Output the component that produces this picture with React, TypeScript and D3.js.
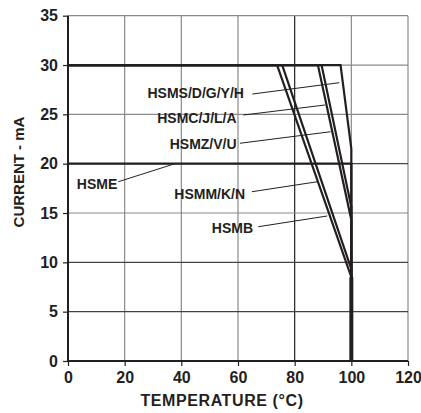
import { useEffect, useRef } from "react";
import * as d3 from "d3";

// axis ticks
const tempTicks = [0, 20, 40, 60, 80, 100, 120];
const currentTicks = [0, 5, 10, 15, 20, 25, 30, 35];

// derating curves, one entry per part family
const partNames = ["HSMS/D/G/Y/H", "HSMC/J/L/A", "HSMZ/V/U", "HSME", "HSMM/K/N", "HSMB"];
const ratedCurrent = [30, 30, 30, 20, 30, 30];
const derateStartTemp = [96.2, 89.5, 88.2, 100, 73.8, 75.6];
const currentAt100 = [21.5, 15.6, 14.3, 20, 8.5, 9.3];
const maxTemp = 100;

// label placement (temperature / current units)
const labelTemp = [62.1, 59.5, 59.5, 17.4, 62.5, 65.3];
const labelCurrent = [27.13, 24.63, 22.05, 17.94, 16.93, 13.48];
const leaderFromTemp = [65.05, 61.87, 60.7, 17.75, 64.94, 67.16];
const leaderFromCurrent = [27.06, 24.93, 22.07, 18.17, 17.16, 13.61];
const leaderToTemp = [95.75, 90.7, 92.7, 37.76, 87.99, 91.5];
const leaderToCurrent = [28.21, 25.95, 23.24, 20.0, 18.17, 14.7];

const W = 421;
const H = 413;
const FONT = "'Liberation Sans', Arial, sans-serif";
const INK = "#231f20";

export default function App() {
  const svgRef = useRef<SVGSVGElement>(null);

  useEffect(() => {
    if (!svgRef.current) return;
    const svg = d3.select(svgRef.current);
    svg.selectAll("*").remove();

    const x = d3.scaleLinear().domain([0, 120]).range([68, 408]);
    const y = d3.scaleLinear().domain([0, 35]).range([361, 15.7]);

    // grid
    const grid = svg.append("g");
    tempTicks.slice(1).forEach(t => {
      grid.append("line")
        .attr("x1", x(t)).attr("x2", x(t))
        .attr("y1", y(0)).attr("y2", y(35))
        .attr("stroke", t === 80 ? "#222" : "#8a8a8a")
        .attr("stroke-width", 1.2);
    });
    currentTicks.slice(1).forEach(c => {
      grid.append("line")
        .attr("x1", x(0)).attr("x2", x(120))
        .attr("y1", y(c)).attr("y2", y(c))
        .attr("stroke", c === 5 || c === 10 || c === 20 ? "#444" : "#8a8a8a")
        .attr("stroke-width", 1.2);
    });

    // derating curves
    const line = d3.line<[number, number]>()
      .x(d => x(d[0]))
      .y(d => y(d[1]));

    partNames.forEach((_, i) => {
      const pts: [number, number][] = [
        [0, ratedCurrent[i]],
        [derateStartTemp[i], ratedCurrent[i]],
        [maxTemp, currentAt100[i]],
        [maxTemp, 0],
      ];
      svg.append("path")
        .datum(pts)
        .attr("fill", "none")
        .attr("stroke", INK)
        .attr("stroke-width", 2.2)
        .attr("stroke-linejoin", "miter")
        .attr("d", line);
    });

    // shared vertical cut-off at 100 °C looks heavier
    svg.append("line")
      .attr("x1", x(maxTemp)).attr("x2", x(maxTemp))
      .attr("y1", y(0)).attr("y2", y(d3.min(currentAt100) as number))
      .attr("stroke", INK)
      .attr("stroke-width", 4);

    // leaders and labels
    partNames.forEach((name, i) => {
      svg.append("line")
        .attr("x1", x(leaderFromTemp[i])).attr("y1", y(leaderFromCurrent[i]))
        .attr("x2", x(leaderToTemp[i])).attr("y2", y(leaderToCurrent[i]))
        .attr("stroke", INK)
        .attr("stroke-width", 1);
      svg.append("text")
        .attr("x", x(labelTemp[i]))
        .attr("y", y(labelCurrent[i]))
        .attr("dy", "0.36em")
        .attr("text-anchor", "end")
        .attr("font-family", FONT)
        .attr("font-weight", "bold")
        .attr("font-size", 14)
        .attr("fill", INK)
        .text(name);
    });

    // axes
    const xAxis = svg.append("g")
      .attr("transform", `translate(0,${y(0)})`)
      .call(d3.axisBottom(x).tickValues(tempTicks).tickSize(5).tickPadding(6));
    const yAxis = svg.append("g")
      .attr("transform", `translate(${x(0)},0)`)
      .call(d3.axisLeft(y).tickValues(currentTicks).tickSize(5).tickPadding(5));

    [xAxis, yAxis].forEach(a => {
      a.select(".domain").remove();
      a.selectAll("line").attr("stroke", INK).attr("stroke-width", 1.2);
      a.selectAll("text")
        .attr("font-family", FONT)
        .attr("font-weight", "bold")
        .attr("font-size", 16)
        .attr("fill", INK);
    });

    svg.append("line")
      .attr("x1", x(0)).attr("x2", x(120))
      .attr("y1", y(0)).attr("y2", y(0))
      .attr("stroke", INK).attr("stroke-width", 2);
    svg.append("line")
      .attr("x1", x(0)).attr("x2", x(0))
      .attr("y1", y(0)).attr("y2", y(35))
      .attr("stroke", INK).attr("stroke-width", 2);

    // axis titles
    svg.append("text")
      .attr("x", 222)
      .attr("y", 406)
      .attr("text-anchor", "middle")
      .attr("font-family", FONT)
      .attr("font-weight", "bold")
      .attr("font-size", 16)
      .attr("letter-spacing", 0.6)
      .attr("fill", INK)
      .text("TEMPERATURE (°C)");

    svg.append("text")
      .attr("transform", `translate(24,172) rotate(-90)`)
      .attr("text-anchor", "middle")
      .attr("font-family", FONT)
      .attr("font-weight", "bold")
      .attr("font-size", 15)
      .attr("fill", INK)
      .text("CURRENT - mA");
  }, []);

  return (
    <svg
      ref={svgRef}
      width={W}
      height={H}
      viewBox={`0 0 ${W} ${H}`}
      style={{ position: "absolute", left: 0, top: 0, background: "#fff" }}
    />
  );
}
